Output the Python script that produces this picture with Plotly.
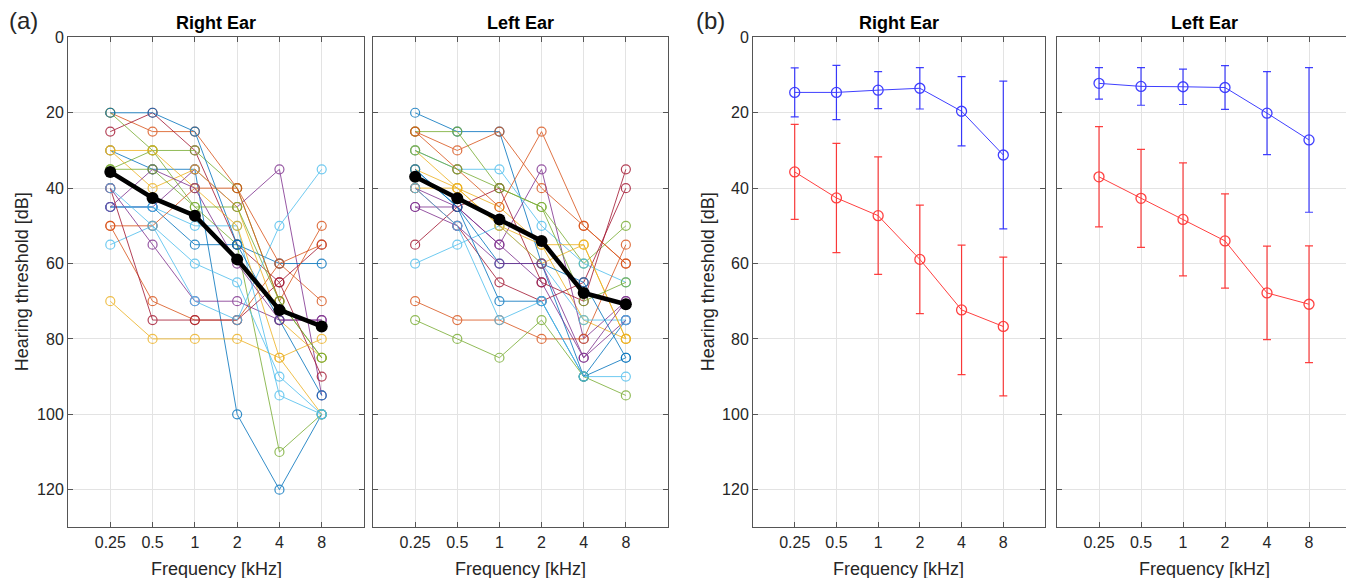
import plotly.graph_objects as go

W, H = 1354, 578

freq_labels = ["0.25", "0.5", "1", "2", "4", "8"]
freq_pos = [1, 2, 3, 4, 5, 6]

matlab_colors = ["#0072BD", "#D95319", "#EDB120", "#7E2F8E", "#77AC30", "#4DBEEE", "#A2142F"]

# Individual audiograms, right ear (dB HL at 0.25,0.5,1,2,4,8 kHz)
right_subjects = [
    [30, 35, 35, 100, 120, 100],
    [20, 25, 25, 40, 60, 70],
    [70, 80, 80, 80, 85, 100],
    [45, 45, 35, 45, 35, 95],
    [35, 30, 45, 55, 110, 100],
    [55, 50, 60, 65, 90, 100],
    [25, 20, 30, 55, 65, 55],
    [45, 45, 55, 55, 60, 60],
    [50, 70, 75, 75, 60, 55],
    [30, 40, 35, 45, 75, 85],
    [40, 55, 70, 70, 75, 75],
    [20, 30, 30, 40, 70, 85],
    [45, 45, 50, 50, 95, 100],
    [40, 75, 75, 75, 65, 90],
    [20, 20, 25, 55, 75, 95],
    [50, 50, 40, 40, 70, 50],
    [30, 30, 40, 50, 85, 80],
    [45, 35, 40, 60, 75, 75],
    [35, 35, 45, 45, 70, 85],
    [40, 50, 70, 75, 50, 35],
]

# Individual audiograms, left ear
left_subjects = [
    [20, 25, 25, 60, 90, 85],
    [25, 30, 25, 40, 50, 60],
    [30, 40, 45, 55, 75, 80],
    [45, 45, 55, 35, 80, 70],
    [25, 25, 40, 45, 60, 50],
    [30, 35, 35, 50, 60, 65],
    [40, 50, 65, 70, 65, 40],
    [35, 45, 70, 70, 90, 75],
    [70, 75, 75, 80, 80, 55],
    [35, 40, 50, 55, 55, 80],
    [40, 45, 55, 65, 85, 75],
    [75, 80, 85, 75, 90, 95],
    [60, 55, 50, 60, 75, 75],
    [55, 45, 40, 65, 70, 35],
    [35, 45, 60, 60, 65, 85],
    [25, 35, 45, 25, 50, 60],
    [40, 40, 50, 60, 55, 80],
    [45, 50, 60, 60, 85, 70],
    [30, 35, 40, 45, 70, 65],
    [40, 50, 75, 70, 90, 90],
]

# Group means and SDs
patient_right_mean = [35.7, 42.6, 47.3, 58.9, 72.3, 76.7]
patient_left_mean = [37.0, 42.7, 48.3, 54.0, 67.8, 70.8]
patient_right_sd = [12.6, 14.5, 15.6, 14.4, 17.2, 18.4]
patient_left_sd = [13.3, 13.0, 15.0, 12.5, 12.4, 15.5]

control_right_mean = [14.6, 14.6, 14.0, 13.5, 19.6, 31.2]
control_right_sd = [6.5, 7.2, 4.9, 5.5, 9.2, 19.6]
control_left_mean = [12.2, 13.0, 13.1, 13.3, 20.1, 27.2]
control_left_sd = [4.2, 5.0, 4.7, 5.8, 11.0, 19.2]

y_ticks = [0, 20, 40, 60, 80, 100, 120]

fig = go.Figure()

# screen-pixel targets -> paper fractions (compensating for page offset)
def px_x(x):
    return (x - 8) / W

def px_y(y):
    yf = (y - 17.7) / 0.9822
    return 1 - yf / H

domains = {
    1: (68, 364),
    2: (373, 668),
    3: (753, 1045),
    4: (1057, 1351),
}
ytop, ybot = 39, 527

# Panel (a): individual audiograms
for subjects, ax in [(right_subjects, 1), (left_subjects, 2)]:
    xa = "x" if ax == 1 else f"x{ax}"
    ya = "y" if ax == 1 else f"y{ax}"
    for i, vals in enumerate(subjects):
        c = matlab_colors[i % len(matlab_colors)]
        fig.add_trace(go.Scatter(
            x=freq_pos, y=vals, mode="lines+markers", xaxis=xa, yaxis=ya,
            line=dict(color=c, width=1), opacity=0.8,
            marker=dict(symbol="circle-open", size=9, color=c, line=dict(width=1.2)),
            showlegend=False, hoverinfo="skip"))
    mean = patient_right_mean if ax == 1 else patient_left_mean
    fig.add_trace(go.Scatter(
        x=freq_pos, y=mean, mode="lines+markers", xaxis=xa, yaxis=ya,
        line=dict(color="black", width=4.5),
        marker=dict(symbol="circle", size=12, color="black"),
        showlegend=False))

# Panel (b): group means with SD
for ax, cm, cs, pm, ps in [
    (3, control_right_mean, control_right_sd, patient_right_mean, patient_right_sd),
    (4, control_left_mean, control_left_sd, patient_left_mean, patient_left_sd),
]:
    xa, ya = f"x{ax}", f"y{ax}"
    for m, s, col in [(cm, cs, "#0000FF"), (pm, ps, "#FF0000")]:
        fig.add_trace(go.Scatter(
            x=freq_pos, y=m, mode="lines+markers", xaxis=xa, yaxis=ya,
            line=dict(color=col, width=1), opacity=0.75,
            marker=dict(symbol="circle-open", size=10, color=col, line=dict(width=1.3)),
            error_y=dict(type="data", array=s, visible=True, color=col, thickness=1.2, width=4),
            showlegend=False))

font = "Liberation Sans, Arial"
axis_common = dict(
    showline=True, linecolor="#555555", linewidth=1, mirror="ticks",
    ticks="inside", ticklen=5, tickcolor="#555555",
    showgrid=True, gridcolor="#E3E3E3", gridwidth=1, zeroline=False,
    tickfont=dict(family=font, size=16, color="#262626"),
)

layout = dict(
    width=W, height=H, margin=dict(l=0, r=0, t=0, b=0),
    paper_bgcolor="white", plot_bgcolor="white",
)
for ax, (x0, x1) in domains.items():
    xk = "xaxis" if ax == 1 else f"xaxis{ax}"
    yk = "yaxis" if ax == 1 else f"yaxis{ax}"
    xa = "x" if ax == 1 else f"x{ax}"
    ya = "y" if ax == 1 else f"y{ax}"
    layout[xk] = dict(domain=[px_x(x0), px_x(x1)], range=[0, 7], tickvals=freq_pos,
                      ticktext=freq_labels, anchor=ya, **axis_common)
    layout[yk] = dict(domain=[px_y(ybot), px_y(ytop)], range=[130, 0], tickvals=y_ticks,
                      showticklabels=(ax in (1, 3)), anchor=xa, **axis_common)
fig.update_layout(**layout)

ann = []
titles = ["Right Ear", "Left Ear", "Right Ear", "Left Ear"]
for ax, (x0, x1) in domains.items():
    cx = (x0 + x1) / 2
    ann.append(dict(text="<b>" + titles[ax - 1] + "</b>", x=px_x(cx), y=px_y(25),
                    xref="paper", yref="paper", showarrow=False,
                    font=dict(family=font, size=18, color="black"), xanchor="center", yanchor="middle"))
    ann.append(dict(text="Frequency [kHz]", x=px_x(cx), y=px_y(568),
                    xref="paper", yref="paper", showarrow=False,
                    font=dict(family=font, size=18, color="#262626"), xanchor="center", yanchor="middle"))
for xpos in (22, 708):
    ann.append(dict(text="Hearing threshold [dB]", x=px_x(xpos), y=px_y(283),
                    xref="paper", yref="paper", showarrow=False, textangle=-90,
                    font=dict(family=font, size=18, color="#262626"), xanchor="center", yanchor="middle"))
ann.append(dict(text="(a)", x=px_x(7), y=px_y(22), xref="paper", yref="paper", showarrow=False,
                font=dict(family=font, size=24, color="#262626"), xanchor="left", yanchor="middle"))
ann.append(dict(text="(b)", x=px_x(694), y=px_y(22), xref="paper", yref="paper", showarrow=False,
                font=dict(family=font, size=24, color="#262626"), xanchor="left", yanchor="middle"))
fig.update_layout(annotations=ann)

fig.write_html("out.html")
